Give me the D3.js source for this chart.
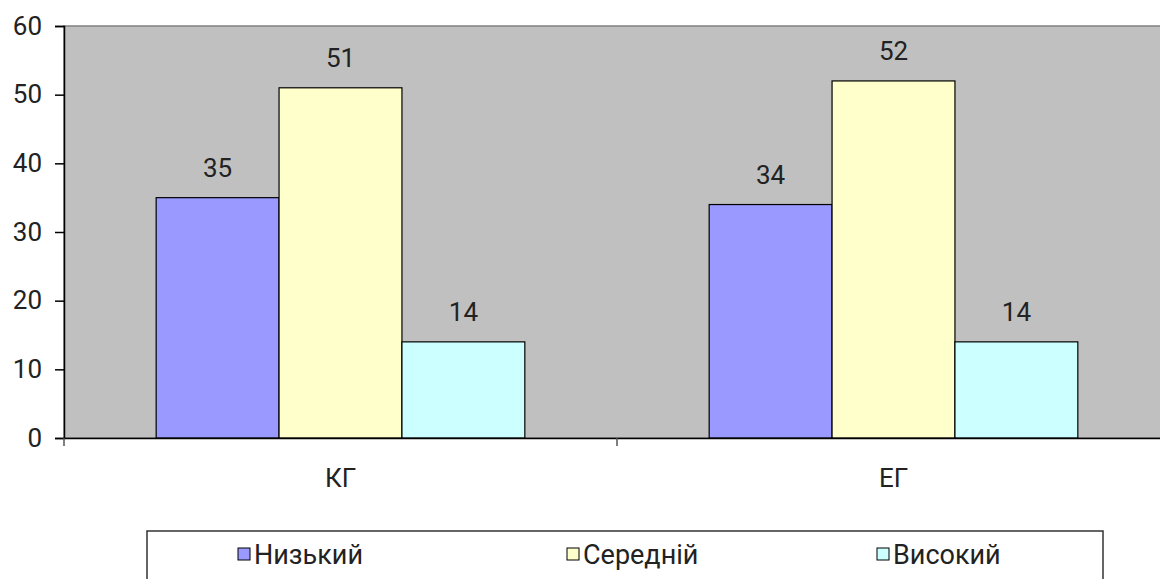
<!DOCTYPE html>
<html><head><meta charset="utf-8">
<script src="https://cdn.jsdelivr.net/npm/d3@7"></script>
<style>body{margin:0;background:#fff}svg{display:block;font-family:Roboto,"Liberation Sans",Arial,sans-serif}</style>
</head><body>
<svg id="c" width="1160" height="579"></svg>
<script>
const categories = ["КГ", "ЕГ"];
const seriesNames = ["Низький", "Середній", "Високий"];
const seriesColors = ["#9999FF", "#FFFFCC", "#CCFFFF"];
const nyzkyi = [35, 34];
const serednii = [51, 52];
const vysokyi = [14, 14];
const yTicks = [0, 10, 20, 30, 40, 50, 60];
const values = [nyzkyi, serednii, vysokyi];

(function(){
const FS = 26;
const FF = "Roboto, 'Liberation Sans', Arial, sans-serif";
const svg = d3.select("#c");
const pl = 64, pr = 1170, pt = 26, pb = 438;
const x = d3.scaleBand().domain(categories).range([pl, pr]).paddingInner(0).paddingOuter(0);
const y = d3.scaleLinear().domain([0, 60]).range([pb, pt]);
const bw = x.bandwidth() / (3 + 1.5);
const x1 = d3.scaleBand().domain(seriesNames).range([0, bw * 3]);

svg.append("rect").attr("x", pl).attr("y", pt).attr("width", pr - pl).attr("height", pb - pt)
  .attr("fill", "#C0C0C0").attr("stroke", "#808080").attr("stroke-width", 1.5);

categories.forEach((c, ci) => {
  const g0 = x(c) + bw * 0.75;
  seriesNames.forEach((s, si) => {
    const v = values[si][ci];
    const bx = g0 + x1(s);
    svg.append("rect").attr("x", bx).attr("y", y(v)).attr("width", x1.bandwidth()).attr("height", y(0) - y(v))
      .attr("fill", seriesColors[si]).attr("stroke", "#000").attr("stroke-width", 1.2);
    svg.append("text").attr("x", bx + x1.bandwidth() / 2).attr("y", y(v) - 21).attr("text-anchor", "middle")
      .attr("font-size", FS).attr("fill", "#222").text(v);
  });
});

const ya = svg.append("g").attr("transform", `translate(${pl},0)`)
  .call(d3.axisLeft(y).tickValues(yTicks).tickSize(9).tickPadding(13));
ya.select(".domain").attr("stroke", "#000").attr("stroke-width", 1.5);
ya.selectAll(".tick line").attr("stroke", "#000").attr("stroke-width", 1.5);
ya.selectAll("text").attr("font-size", FS).attr("fill", "#222").attr("font-family", FF);

const xa = svg.append("g").attr("transform", `translate(0,${pb})`)
  .call(d3.axisBottom(x).tickSize(0).tickPadding(31));
xa.select(".domain").attr("stroke", "#000").attr("stroke-width", 1.5);
xa.selectAll("text").attr("font-size", FS).attr("fill", "#222").attr("font-family", FF);
const bounds = [pl, x(categories[1])];
svg.selectAll(".btick").data(bounds).enter().append("line")
  .attr("x1", d => d).attr("x2", d => d).attr("y1", pb).attr("y2", pb + 8)
  .attr("stroke", "#555").attr("stroke-width", 1.5);

const lg = svg.append("g");
lg.append("rect").attr("x", 147).attr("y", 531).attr("width", 956).attr("height", 60)
  .attr("fill", "#fff").attr("stroke", "#333").attr("stroke-width", 1.5);
const lx = [238, 567, 877];
seriesNames.forEach((s, i) => {
  lg.append("rect").attr("x", lx[i]).attr("y", 548).attr("width", 12).attr("height", 12)
    .attr("fill", seriesColors[i]).attr("stroke", "#000").attr("stroke-width", 1);
  lg.append("text").attr("x", lx[i] + 16).attr("y", 564).attr("font-size", 27).attr("fill", "#222").text(s);
});
})();
</script>
</body></html>
